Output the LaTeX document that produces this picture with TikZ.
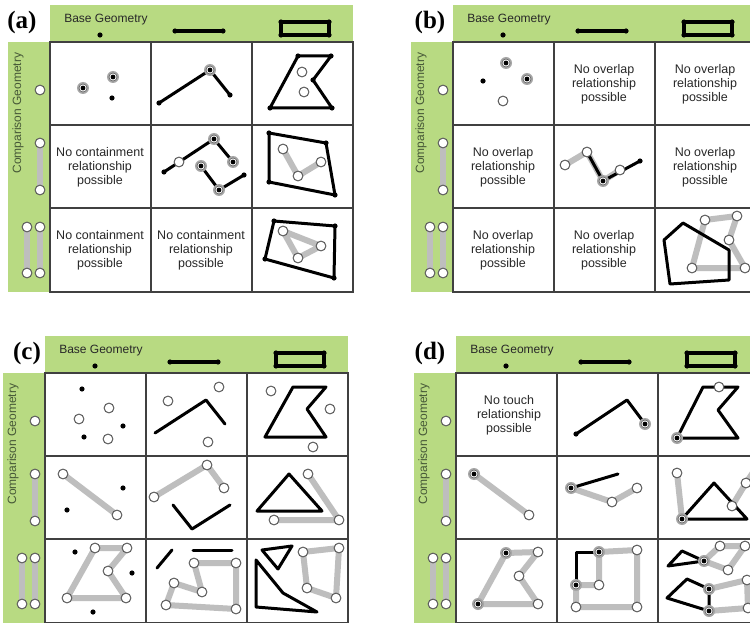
\documentclass[tikz,border=0pt]{standalone}
\usepackage{fontspec}
\setmainfont{Liberation Sans}
\newfontfamily\serifbold{Liberation Serif}
\definecolor{pgreen}{RGB}{184,218,130}
\definecolor{lgray}{RGB}{190,190,190}
\definecolor{txtc}{RGB}{40,40,40}
\definecolor{lblc}{RGB}{70,88,55}
\tikzset{
 blk/.style={line width=3pt, black, line join=round, line cap=round},
 gry/.style={line width=6pt, lgray, line join=round, line cap=round},
 gridln/.style={line width=1.3pt, black!75},
 celltext/.style={align=center, font=\fontsize{12.5}{14}\selectfont, text=txtc, inner sep=0pt},
 hdrtext/.style={font=\fontsize{12}{13}\selectfont, text=txtc, inner sep=0pt},
 cmptext/.style={font=\fontsize{12}{13}\selectfont, text=lblc, inner sep=0pt, rotate=90},
 panellbl/.style={font=\serifbold\bfseries\fontsize{25}{27}\selectfont, inner sep=0pt},
}
\newcommand\wcir[1]{\draw[fill=white,draw=black!65,line width=1pt] #1 circle (4.9pt);}
\newcommand\cdt[1]{\fill[black!35] #1 circle (6pt); \draw[fill=white,draw=black!60,line width=0.7pt] #1 circle (4pt); \fill[black] #1 circle (2.4pt);}
\newcommand\bdt[1]{\fill[black] #1 circle (2.6pt);}
\newcommand\pframe[3]{%
 \fill[pgreen] (0,-37) rectangle (303,0);
 \fill[pgreen] (-42,0) rectangle (0,250);
 \fill[white] (0,0) rectangle (303,250);
 \node[panellbl] (lab#1) at (#3,-20) {#2};
 \node[hdrtext] (base#1) at (56,-22) {Base Geometry};
 \bdt{(50,-7)}
 \draw[blk, line width=3.4pt] (125,-11)--(173,-11); \bdt{(125,-11)} \bdt{(173,-11)}
 \draw[blk, line width=3.6pt] (231,-20) rectangle (279,-7);
 \bdt{(231,-20)} \bdt{(279,-20)} \bdt{(231,-7)} \bdt{(279,-7)}
 \node[cmptext] (comp#1) at (-32,71) {Comparison Geometry};
 \wcir{(-10,48)}
 \draw[gry] (-10,101)--(-10,148); \wcir{(-10,101)} \wcir{(-10,148)}
 \draw[gry] (-23,185)--(-23,231); \draw[gry] (-10,185)--(-10,231);
 \wcir{(-23,185)} \wcir{(-10,185)} \wcir{(-23,231)} \wcir{(-10,231)}
}
\newcommand\pgrid{%
 \draw[gridln] (0,0) rectangle (303,250);
 \draw[gridln] (101,0)--(101,250) (202,0)--(202,250) (0,83)--(303,83) (0,166)--(303,166);
}
\begin{document}
\begin{tikzpicture}[x=1pt,y=-1pt]
\useasboundingbox (0,0) rectangle (750,623);
\clip (0,0) rectangle (750,623);
% ---------------- panel (a)
\begin{scope}[shift={(50,42)}]
 \pframe{a}{(a)}{-28}
 % R1
 \cdt{(33,46)} \cdt{(63,35)} \bdt{(62,56)}
 \draw[blk] (109,61)--(160,28)--(180,53); \bdt{(109,61)} \bdt{(180,53)} \cdt{(160,28)}
 \draw[blk] (220,66)--(248,14)--(281,14)--(263,38)--(282,66)--cycle;
 \bdt{(220,66)} \bdt{(248,14)} \bdt{(281,14)} \bdt{(263,38)} \bdt{(282,66)}
 \wcir{(252,30)} \wcir{(254,50)}
 % R2
 \node[celltext] (a21) at (50,125) {No containment\\relationship\\possible};
 \draw[blk] (114,130)--(164,97)--(183,120); \draw[blk] (151,124)--(169,148)--(194,133);
 \bdt{(114,130)} \bdt{(194,133)}
 \wcir{(129,120)} \cdt{(164,97)} \cdt{(183,120)} \cdt{(151,124)} \cdt{(169,148)}
 \draw[blk] (219,91)--(276,101)--(285,153)--(219,140)--cycle;
 \bdt{(219,91)} \bdt{(276,101)} \bdt{(285,153)} \bdt{(219,140)}
 \draw[gry] (233,107)--(248,134)--(271,120); \wcir{(233,107)} \wcir{(248,134)} \wcir{(271,120)}
 % R3
 \node[celltext] (a31) at (50,208) {No containment\\relationship\\possible};
 \node[celltext] (a32) at (151,208) {No containment\\relationship\\possible};
 \draw[blk] (224,179)--(285,184)--(284,236)--(215,217)--cycle;
 \bdt{(224,179)} \bdt{(285,184)} \bdt{(284,236)} \bdt{(215,217)}
 \draw[gry] (233,189)--(271,204)--(248,216)--cycle; \wcir{(233,189)} \wcir{(271,204)} \wcir{(248,216)}
 \pgrid
\end{scope}
% ---------------- panel (b)
\begin{scope}[shift={(453,42)}]
 \pframe{b}{(b)}{-23}
 \cdt{(53,21)} \cdt{(74,37)} \bdt{(30,39)} \wcir{(50,59)}
 \node[celltext] (b12) at (151,42) {No overlap\\relationship\\possible};
 \node[celltext] (b13) at (252,42) {No overlap\\relationship\\possible};
 \node[celltext] (b21) at (50,125) {No overlap\\relationship\\possible};
 \draw[gry] (112,123)--(134,110)--(150,139)--(167,128);
 \draw[blk] (134,110)--(150,139)--(187,119); \bdt{(187,119)}
 \wcir{(112,123)} \wcir{(134,110)} \wcir{(167,128)} \cdt{(150,139)}
 \node[celltext] (b23) at (252,125) {No overlap\\relationship\\possible};
 \node[celltext] (b31) at (50,208) {No overlap\\relationship\\possible};
 \node[celltext] (b32) at (151,208) {No overlap\\relationship\\possible};
 \draw[gry] (252,178)--(284,174)--(276,198)--(292,226)--(239,226)--cycle;
 \draw[blk] (211,198)--(230,181)--(276,208)--(276,238)--(217,242)--cycle;
 \wcir{(252,178)} \wcir{(284,174)} \wcir{(276,198)} \wcir{(292,226)} \wcir{(239,226)}
 \pgrid
\end{scope}
% ---------------- panel (c)
\begin{scope}[shift={(45,373)}]
 \pframe{c}{(c)}{-18}
 \bdt{(37,16)} \bdt{(78,53)} \bdt{(39,64)} \wcir{(64,35)} \wcir{(34,46)} \wcir{(63,66)}
 \draw[blk] (110,60)--(161,27)--(180,51); \wcir{(123,28)} \wcir{(174,14)} \wcir{(163,69)}
 \draw[blk] (248,14)--(281,14)--(262,36)--(281,64)--(220,64)--cycle;
 \wcir{(226,18)} \wcir{(285,36)} \wcir{(268,74)}
 \draw[gry] (18,101)--(72,142); \wcir{(18,101)} \wcir{(72,142)} \bdt{(78,115)} \bdt{(22,137)}
 \draw[gry] (109,124)--(162,92)--(179,115); \wcir{(109,124)} \wcir{(162,92)} \wcir{(179,115)}
 \draw[blk] (128,132)--(147,156)--(185,132);
 \draw[blk] (244,101)--(277,138)--(212,138)--cycle;
 \draw[gry] (263,101)--(294,147)--(229,147); \wcir{(263,101)} \wcir{(294,147)} \wcir{(229,147)}
 \draw[gry] (50,175)--(82,175)--(63,198)--(81,225)--(22,225)--cycle;
 \wcir{(50,175)} \wcir{(82,175)} \wcir{(63,198)} \wcir{(81,225)} \wcir{(22,225)}
 \bdt{(30,179)} \bdt{(87,200)} \bdt{(48,239)}
 \draw[blk] (112,195)--(127,177); \draw[blk] (148,177)--(187,177);
 \draw[gry] (149,190)--(191,190)--(191,236)--(121,232)--(129,210)--(157,219)--cycle;
 \wcir{(149,190)} \wcir{(191,190)} \wcir{(191,236)} \wcir{(121,232)} \wcir{(129,210)} \wcir{(157,219)}
 \draw[blk] (217,177)--(247,173)--(233,196)--cycle;
 \draw[blk] (211,187)--(238,220)--(272,239)--(211,234)--cycle;
 \draw[gry] (258,179)--(294,175)--(291,225)--(262,215)--cycle;
 \wcir{(258,179)} \wcir{(294,175)} \wcir{(291,225)} \wcir{(262,215)}
 \pgrid
\end{scope}
% ---------------- panel (d)
\begin{scope}[shift={(456,373)}]
 \pframe{d}{(d)}{-26}
 \node[celltext] (d11) at (53,42) {No touch\\relationship\\possible};
 \draw[blk] (120,61)--(171,27)--(189,51); \bdt{(120,61)} \cdt{(189,51)}
 \draw[blk] (221,65)--(247,14)--(282,14)--(262,37)--(282,65)--cycle;
 \cdt{(221,65)} \wcir{(263,14)}
 \draw[gry] (18,101)--(73,142); \cdt{(18,101)} \wcir{(73,142)}
 \draw[gry] (115,115)--(156,129)--(181,115); \draw[blk] (115,115)--(162,101);
 \cdt{(115,115)} \wcir{(156,129)} \wcir{(181,115)}
 \draw[gry] (221,100)--(226,146); \draw[gry] (276,133)--(290,110)--(300,95);
 \draw[blk] (226,146)--(258,110)--(291,146)--cycle;
 \wcir{(221,100)} \cdt{(226,146)} \wcir{(276,133)} \wcir{(290,110)}
 \draw[gry] (50,180)--(82,179)--(63,203)--(82,231)--(22,231)--cycle;
 \cdt{(50,180)} \cdt{(22,231)} \wcir{(82,179)} \wcir{(63,203)} \wcir{(82,231)}
 \draw[gry] (143,179)--(181,177)--(181,234)--(120,234)--(120,212)--(143,212)--cycle;
 \draw[blk] (120,212)--(120,179)--(143,179);
 \cdt{(143,179)} \cdt{(120,212)} \wcir{(181,177)} \wcir{(181,234)} \wcir{(120,234)} \wcir{(143,212)}
 \draw[gry] (248,188)--(264,173)--(289,173)--(272,197)--cycle;
 \draw[blk] (212,193)--(226,178)--(248,188)--cycle;
 \cdt{(248,188)} \wcir{(264,173)} \wcir{(289,173)} \wcir{(272,197)}
 \draw[gry] (253,216)--(291,207)--(292,235)--(253,238);
 \draw[blk] (211,225)--(231,206)--(253,216)--(253,238)--cycle;
 \cdt{(253,216)} \cdt{(253,238)} \wcir{(291,207)} \wcir{(292,235)}
 \pgrid
\end{scope}
\end{tikzpicture}
\end{document}
